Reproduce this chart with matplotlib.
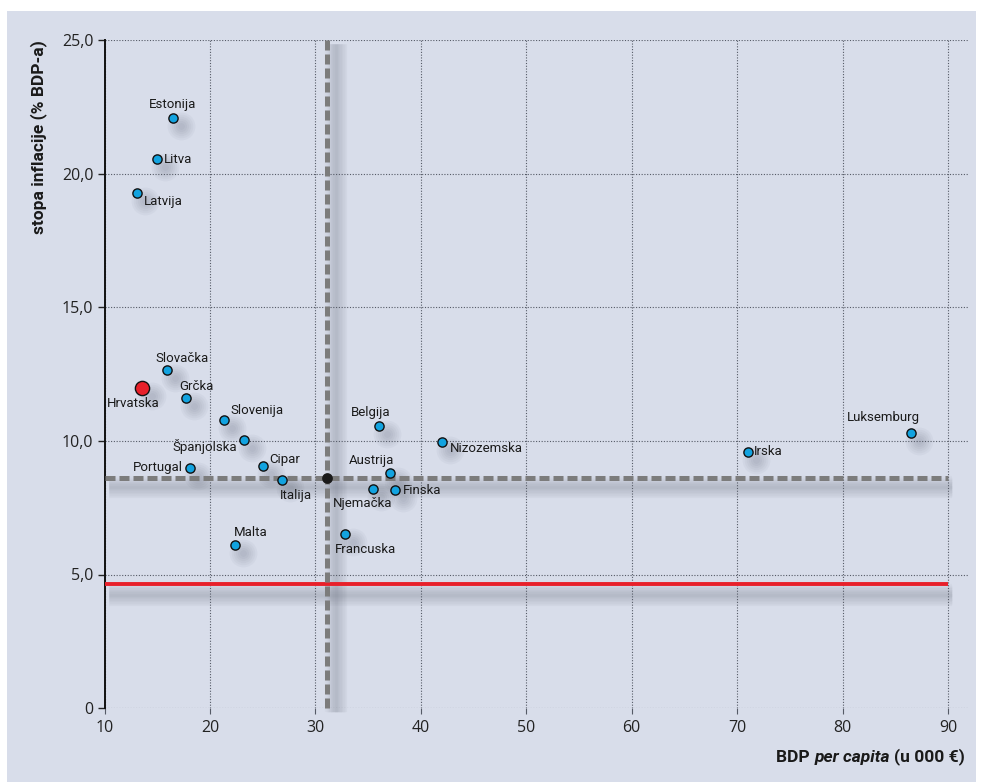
import matplotlib
matplotlib.use("Agg")
import matplotlib.pyplot as plt
from matplotlib.patches import Rectangle
from matplotlib.transforms import offset_copy

# --- podaci: BDP per capita (000 EUR) i stopa inflacije (% BDP-a)
countries = ['Estonija', 'Litva', 'Latvija', 'Slovačka', 'Grčka', 'Slovenija',
             'Španjolska', 'Portugal', 'Cipar', 'Italija', 'Malta', 'Belgija',
             'Nizozemska', 'Austrija', 'Njemačka', 'Finska', 'Francuska',
             'Irska', 'Luksemburg']
gdp = [16.5, 14.95, 13.05, 15.9, 17.7, 21.35, 23.25, 18.1, 25.05, 26.8, 22.4,
       36.0, 42.0, 37.05, 35.45, 37.55, 32.8, 71.0, 86.5]
inflation = [22.1, 20.55, 19.3, 12.65, 11.6, 10.8, 10.05, 9.0, 9.05, 8.55, 6.1,
             10.55, 9.95, 8.8, 8.2, 8.15, 6.5, 9.6, 10.3]

croatia = ('Hrvatska', 13.6, 12.0)
mean_gdp = 31.1
mean_inflation = 8.6
threshold = 4.65

x_ticks = [10, 20, 30, 40, 50, 60, 70, 80, 90]
y_ticks = [0, 5, 10, 15, 20, 25]
y_tick_labels = ['0', '5,0', '10,0', '15,0', '20,0', '25,0']

# pomak natpisa od tocke (px), poravnanje
label_pos = {
    'Estonija': (0, 13, 'center'), 'Litva': (7, 0, 'left'),
    'Latvija': (7, -9, 'left'), 'Slovačka': (15, 12, 'center'),
    'Grčka': (11, 12, 'center'), 'Slovenija': (6, 9, 'left'),
    'Španjolska': (-7, -7, 'right'), 'Portugal': (-7, 0, 'right'),
    'Cipar': (6, 7, 'left'), 'Italija': (-2, -16, 'left'),
    'Malta': (16, 13, 'center'), 'Belgija': (-8, 14, 'center'),
    'Nizozemska': (8, -6, 'left'), 'Austrija': (-18, 13, 'center'),
    'Njemačka': (-10, -14, 'center'), 'Finska': (8, 0, 'left'),
    'Francuska': (21, -15, 'center'), 'Irska': (6, 0, 'left'),
    'Luksemburg': (-28, 15, 'center'), 'Hrvatska': (-9, -16, 'center'),
}

LABEL_FONT = ['Roboto', 'DejaVu Sans']
TICK_FONT = ['Open Sans', 'DejaVu Sans']
PX = 0.72  # px -> pt kod dpi=100
SHADOW = '#4a5060'

fig = plt.figure(figsize=(9.83, 7.84), dpi=100)
fig.patch.set_facecolor('white')
fig.add_artist(Rectangle((7 / 983, 1 - 782 / 784), 969 / 983, 771 / 784,
                         transform=fig.transFigure, facecolor='#D8DDEA',
                         edgecolor='none', zorder=-10))

ax = fig.add_axes([104.5 / 983, 1 - 708 / 784, 863.5 / 983, 667.5 / 784])
ax.set_facecolor('none')
ax.set_xlim(10, 91.9)
ax.set_ylim(0, 25)


def shift(dx, dy):
    return offset_copy(ax.transData, fig=fig, x=dx * PX, y=dy * PX, units='points')


def point_shadow(x, y, dx=8, dy=-8):
    tr = shift(dx, dy)
    for d in [5, 8, 11, 14, 17, 20]:
        ax.scatter(x, y, s=d ** 2, color=SHADOW, alpha=0.045, lw=0,
                   transform=tr, zorder=1, clip_on=False)


def line_shadow(xs, ys, dx, dy):
    tr = shift(dx, dy)
    for w in [2, 4, 6, 8, 10, 12, 14, 16]:
        ax.plot(xs, ys, color=SHADOW, alpha=0.03, lw=w, solid_capstyle='butt',
                transform=tr, zorder=1, clip_on=False)


# mreza
ax.set_xticks(x_ticks)
ax.set_yticks(y_ticks)
ax.set_yticklabels(y_tick_labels)
ax.grid(True, linestyle=(0, (1, 1.5)), color='#555a66', linewidth=0.8)
for s in ['top', 'right', 'bottom']:
    ax.spines[s].set_visible(False)
ax.spines['left'].set_color('#111111')
ax.spines['left'].set_linewidth(1.4)
ax.tick_params(axis='y', length=5, width=1, color='#222222', pad=3,
               labelsize=11.5, labelcolor='#222222')
ax.tick_params(axis='x', length=4, width=0.8, color='#555a66', pad=5,
               labelsize=11.5, labelcolor='#222222')
for t in ax.get_xticklabels() + ax.get_yticklabels():
    t.set_family(TICK_FONT)

# referentne linije
line_shadow([10, 90], [threshold, threshold], 4, -11)
ax.plot([10, 90], [threshold, threshold], color='#E8202A', lw=2.8,
        solid_capstyle='butt', zorder=3)

line_shadow([10, 90], [mean_inflation, mean_inflation], 4, -9)
line_shadow([mean_gdp, mean_gdp], [0, 25], 9, -4)
dash = (0, (2.0, 0.8))
ax.plot([10, 90], [mean_inflation, mean_inflation], color='#7c7c7c', lw=3.6,
        linestyle=dash, dash_capstyle='butt', zorder=3)
ax.plot([mean_gdp, mean_gdp], [0, 25.1], color='#7c7c7c', lw=3.6,
        linestyle=dash, dash_capstyle='butt', zorder=3, clip_on=False)
ax.scatter([mean_gdp], [mean_inflation], s=60, color='#1a1a1a', lw=0, zorder=5)

# zemlje
point_shadow(gdp, inflation)
point_shadow([croatia[1]], [croatia[2]], dx=10, dy=-8)
ax.scatter(gdp, inflation, s=44, color='#12A3E0', edgecolor='#111111',
           linewidth=1.0, zorder=6)
ax.scatter([croatia[1]], [croatia[2]], s=105, color='#E8202A',
           edgecolor='#111111', linewidth=1.0, zorder=6)

for name, x, y in list(zip(countries, gdp, inflation)) + [croatia]:
    dx, dy, ha = label_pos[name]
    ax.annotate(name, (x, y), xytext=(dx * PX, dy * PX), textcoords='offset points',
                ha=ha, va='center', fontsize=9.5, family=LABEL_FONT,
                color='#1a1a1a', zorder=7)

# naslovi osi
ax.set_ylabel('stopa inflacije (% BDP-a)', loc='top', fontsize=12.5,
              fontweight='bold', family=LABEL_FONT, color='#1a1a1a')
ax.yaxis.set_label_coords(-0.0666, 1.0)

xl = fig.text(965 / 983, 1 - 757 / 784, '(u 000 €)', ha='right', va='center',
              fontsize=12.5, fontweight='bold', family=LABEL_FONT, color='#1a1a1a')
xm = ax.annotate('per capita ', (0, 0), xycoords=xl, ha='right', va='bottom',
                 fontsize=12.5, fontweight='bold', fontstyle='italic',
                 family=LABEL_FONT, color='#1a1a1a', annotation_clip=False)
ax.annotate('BDP ', (0, 0), xycoords=xm, ha='right', va='bottom',
            fontsize=12.5, fontweight='bold', family=LABEL_FONT,
            color='#1a1a1a', annotation_clip=False)

fig.savefig('out.png', dpi=100)
